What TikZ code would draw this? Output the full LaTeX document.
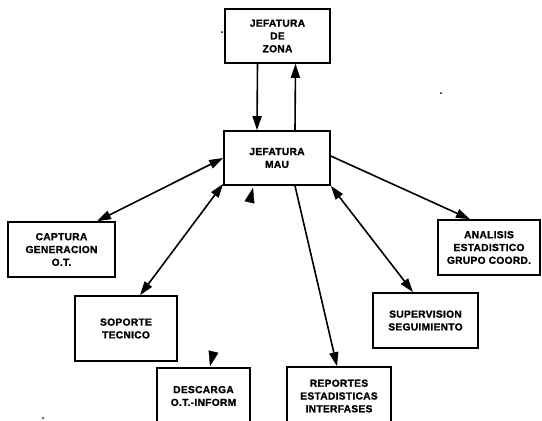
\documentclass[tikz,border=0pt]{standalone}
\usepackage{fontspec}
\setmainfont{Liberation Sans}
\newfontfamily\lblfont{Liberation Sans}[BoldFeatures={FakeBold=1.5},LetterSpace=3]
\usetikzlibrary{arrows.meta}
\begin{document}
\begin{tikzpicture}[x=1pt,y=-1pt,
  box/.style={draw,line width=1.6pt,rectangle,inner sep=0pt,align=center,
    font=\lblfont\bfseries\fontsize{10.2}{12.8}\selectfont},
  link/.style={line width=1.6pt,-{Triangle[length=14pt,width=9pt]}},
  dlink/.style={line width=1.6pt,{Triangle[length=14pt,width=9pt]}-{Triangle[length=14pt,width=9pt]}},
  speck/.style={fill=black,draw=none}]
\useasboundingbox (0,0) rectangle (542,421);
\clip (0,0) rectangle (542,421);

% boxes
\node[box,minimum width=105pt,minimum height=54pt] (zona) at (277.5,36) {JEFATURA\\DE\\ZONA};
\node[box,minimum width=106pt,minimum height=54pt] (mau) at (277,158) {JEFATURA\\MAU};
\node[box,minimum width=107pt,minimum height=55pt] (captura) at (61.5,249.5) {CAPTURA\\GENERACION\\O.T.};
\node[box,minimum width=102pt,minimum height=65pt] (soporte) at (126,328.5) {SOPORTE\\TECNICO};
\node[box,minimum width=93pt,minimum height=56pt] (descarga) at (203.5,396) {DESCARGA\\O.T.-INFORM};
\node[box,minimum width=104pt,minimum height=58pt] (reportes) at (339,396) {REPORTES\\ESTADISTICAS\\INTERFASES};
\node[box,minimum width=105pt,minimum height=55pt] (supervision) at (425.5,320.5) {SUPERVISION\\SEGUIMIENTO};
\node[box,minimum width=102pt,minimum height=55pt] (analisis) at (489,247.5) {ANALISIS\\ESTADISTICO\\GRUPO COORD.};

% connectors
\draw[link] ([xshift=-20pt]zona.south) -- ([xshift=-20pt]mau.north);
\draw[link] ([xshift=18pt]mau.north) -- ([xshift=18pt]zona.south);
\draw[dlink] (mau.west) -- ([xshift=35.5pt]captura.north);
\draw[dlink] ([yshift=2pt]mau.south west) -- ([xshift=14pt]soporte.north);
\draw[dlink] (mau.south east) -- ([xshift=-12.5pt]supervision.north);
\draw[link] ([yshift=2pt]mau.east) -- ([xshift=-19pt]analisis.north);
\draw[link] ([xshift=18pt]mau.south) -- ([xshift=-2pt]reportes.north);
% only the arrow tips of this link are printed
\path[tips=true,{Triangle[length=15pt,width=10pt]}-{Triangle[length=15pt,width=10pt]}]
  ([xshift=-24pt,yshift=-2pt]mau.south) -- ([xshift=6.5pt,yshift=1pt]descarga.north);

% specks
\fill[speck] (222,32) circle (1pt);
\fill[speck] (441,93) circle (1pt);
\fill[speck] (43,418) circle (1pt);
\end{tikzpicture}
\end{document}
